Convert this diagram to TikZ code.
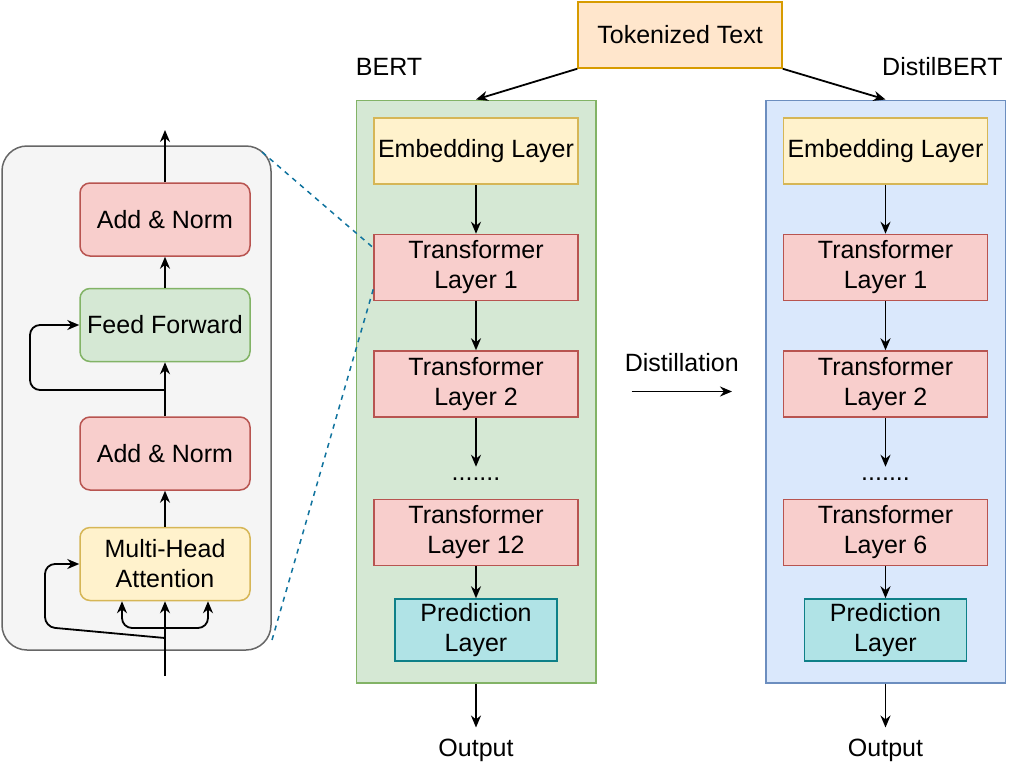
\documentclass[tikz,border=0pt]{standalone}
\usepackage{fontspec}
\setmainfont{Liberation Sans}
\usetikzlibrary{arrows.meta, positioning, fit, backgrounds, calc}
\definecolor{tokfill}{HTML}{FFE6CC}
\definecolor{tokdraw}{HTML}{D79B00}
\definecolor{embfill}{HTML}{FFF2CC}
\definecolor{embdraw}{HTML}{D6B656}
\definecolor{trfill}{HTML}{F8CECC}
\definecolor{trdraw}{HTML}{B85450}
\definecolor{ffill}{HTML}{D5E8D4}
\definecolor{fdraw}{HTML}{82B366}
\definecolor{distfill}{HTML}{DAE8FC}
\definecolor{distdraw}{HTML}{6C8EBF}
\definecolor{predfill}{HTML}{B0E3E6}
\definecolor{preddraw}{HTML}{0E8088}
\definecolor{encfill}{HTML}{F5F5F5}
\definecolor{encdraw}{HTML}{666666}
\definecolor{zoomblue}{HTML}{10739E}
\tikzset{
    layerbox/.style={rectangle, minimum width=102pt, minimum height=33pt, draw, line width=0.75pt, align=center, inner sep=2pt},
    predbox/.style={rectangle, minimum width=81pt, minimum height=31pt, draw=preddraw, fill=predfill, line width=0.75pt, align=center, inner sep=2pt},
    blockbox/.style={rectangle, rounded corners=5pt, minimum width=85pt, minimum height=36.5pt, draw, line width=0.75pt, align=center, inner sep=2pt},
    modelbox/.style={rectangle, draw, line width=0.75pt, inner sep=8.5pt},
    arrow/.style={-{Stealth[length=6pt, width=5pt]}, line width=0.9pt, black},
}
\begin{document}
\begin{tikzpicture}[x=0.5pt, y=-0.5pt, font=\fontsize{12.5}{15}\selectfont,
  encbox/.style={rectangle, rounded corners=12.5pt, draw=encdraw, fill=encfill, line width=0.75pt},
  zoomline/.style={zoomblue, line width=0.75pt, dash pattern=on 2.5pt off 2.5pt}
]
\useasboundingbox (0,0) rectangle (1011,766);

% Encoder block (left)
\node[encbox, minimum width=134.5pt, minimum height=252pt] (enc) at (136.5,398) {};
\node[blockbox, fill=trfill, draw=trdraw] (an2) at (165,219.5) {Add \& Norm};
\node[blockbox, fill=ffill, draw=fdraw, below=15.5pt of an2] (ff) {Feed Forward};
\node[blockbox, fill=trfill, draw=trdraw, below=27pt of ff] (an1) {Add \& Norm};
\node[blockbox, fill=embfill, draw=embdraw, below=18pt of an1] (mha) {Multi-Head\\Attention};

\coordinate (encin) at (165,676);
\coordinate (encout) at (165,130);
\coordinate (split) at (165,628);
\coordinate (res1) at (165,638);
\coordinate (res2) at (165,390);

\draw[arrow] (encin) -- (mha);
\draw[arrow] (mha) -- (an1);
\draw[arrow] (an1) -- (ff);
\draw[arrow] (ff) -- (an2);
\draw[arrow] (an2) -- (encout);
\draw[arrow, rounded corners=5pt] (split) -| ([xshift=-21.5pt]mha.south);
\draw[arrow, rounded corners=5pt] (split) -| ([xshift=21.5pt]mha.south);
\draw[arrow, rounded corners=5pt] (res1) -- (45,627) |- (mha.west);
\draw[arrow, rounded corners=5pt] (res2) -- (30,390) |- (ff.west);

% Tokenized input
\node[layerbox, fill=tokfill, draw=tokdraw] (tok) at (680,35) {Tokenized Text};

% BERT column
\node[layerbox, fill=embfill, draw=embdraw] (bemb) at (476,151) {Embedding Layer};
\node[layerbox, fill=trfill, draw=trdraw, below=24.5pt of bemb] (bt1) {Transformer\\Layer 1};
\node[layerbox, fill=trfill, draw=trdraw, below=24.5pt of bt1] (bt2) {Transformer\\Layer 2};
\node[below=26.5pt of bt2] (bdots) {.......};
\node[layerbox, fill=trfill, draw=trdraw, below=40.5pt of bt2] (bt12) {Transformer\\Layer 12};
\node[predbox, below=16pt of bt12] (bpred) {Prediction\\Layer};
\coordinate (bbot) at ([yshift=-2pt]bpred.south);
\begin{scope}[on background layer]
\node[modelbox, fill=ffill, draw=fdraw, fit=(bemb)(bt1)(bpred)(bbot)] (bert) {};
\end{scope}

% DistilBERT column
\node[layerbox, fill=embfill, draw=embdraw, right=102pt of bemb] (demb) {Embedding Layer};
\node[layerbox, fill=trfill, draw=trdraw, below=24.5pt of demb] (dt1) {Transformer\\Layer 1};
\node[layerbox, fill=trfill, draw=trdraw, below=24.5pt of dt1] (dt2) {Transformer\\Layer 2};
\node[below=26.5pt of dt2] (ddots) {.......};
\node[layerbox, fill=trfill, draw=trdraw, below=40.5pt of dt2] (dt6) {Transformer\\Layer 6};
\node[predbox, below=16pt of dt6] (dpred) {Prediction\\Layer};
\coordinate (dbot) at ([yshift=-2pt]dpred.south);
\begin{scope}[on background layer]
\node[modelbox, fill=distfill, draw=distdraw, fit=(demb)(dt1)(dpred)(dbot)] (distil) {};
\end{scope}

% Labels and outputs
\node[anchor=west, inner sep=0pt] (bertlbl) at ([yshift=16.5pt]bert.north west) {BERT};
\node[anchor=east, inner sep=0pt] (distlbl) at ([yshift=16.5pt, xshift=-1.5pt]distil.north east) {DistilBERT};
\node[below=24pt of bert] (bout) {Output};
\node[below=24pt of distil] (dout) {Output};

% Arrows
\draw[arrow] (tok.south west) -- (bert.north);
\draw[arrow] (tok.south east) -- (distil.north);
\draw[arrow] (bemb) -- (bt1);
\draw[arrow] (bt1) -- (bt2);
\draw[arrow] (bt2) -- ([yshift=2pt]bdots.north);
\draw[arrow] (bt12) -- (bpred);
\draw[arrow] (demb) -- (dt1);
\draw[arrow] (dt1) -- (dt2);
\draw[arrow] (dt2) -- ([yshift=2pt]ddots.north);
\draw[arrow] (dt6) -- (dpred);
\draw[arrow] (bert) -- ([yshift=2pt]bout.north);
\draw[arrow] (distil) -- ([yshift=2pt]dout.north);

% Distillation
\coordinate (dstart) at ([xshift=17.5pt]bert.east);
\coordinate (dend) at ([xshift=-16.5pt]distil.west);
\draw[arrow] (dstart) -- node[midway, above=6pt] (distilltxt) {Distillation} (dend);

% Zoom lines from encoder block to Transformer Layer 1
\coordinate (zoomtop) at (262,152);
\coordinate (zoombot) at (272,640);
\draw[zoomline] (zoomtop) -- ([yshift=-7pt]bt1.north west);
\draw[zoomline] (zoombot) -- ([yshift=6pt]bt1.south west);
\end{tikzpicture}
\end{document}
